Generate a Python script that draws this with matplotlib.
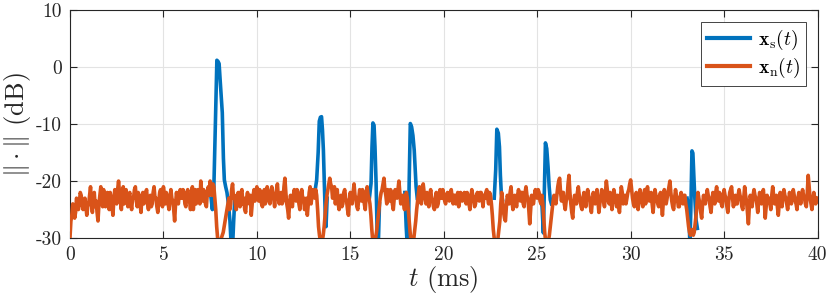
import numpy as np
import matplotlib
matplotlib.use("Agg")
import matplotlib.pyplot as plt

plt.rcParams['mathtext.fontset'] = 'cm'
plt.rcParams['font.family'] = 'serif'
plt.rcParams['font.serif'] = ['cmr10']
plt.rcParams['axes.unicode_minus'] = False
plt.rcParams['axes.formatter.use_mathtext'] = False

# ---------------- data ----------------
# noise series x_n(t), sampled every 0.05 ms from 0 to 40 ms (dB); one row per ms
noise_dt = 0.05
noise_db = [
    -30, -27, -26, -24, -24.5, -26.5, -25.5, -23, -23.5, -25, -24, -22, -22.5, -24, -25, -23.5, -23, -24.5, -26, -24.5,
    -24, -22.5, -21, -24, -25.5, -23, -22, -24.5, -23.5, -25.5, -27, -24, -22.5, -21, -23, -24.5, -21.5, -23, -24.5, -22.5,
    -22, -23.5, -25, -22, -23, -24.5, -26, -23, -21.5, -22.5, -24, -21.5, -20, -22, -23.5, -25, -22.5, -21, -24, -22.5,
    -21.5, -23, -24.5, -22.5, -22, -24, -25, -23, -23, -21.5, -21, -23.5, -24.5, -22, -22.5, -24, -25.5, -23, -22, -24,
    -23.5, -22, -21.5, -24, -25, -23, -22.5, -24.5, -24, -22, -21, -23, -23, -24.5, -25.5, -23.5, -22, -21.5, -23.5, -24.5,
    -21, -22.5, -24, -22, -22.5, -24, -25, -23, -21.5, -23, -23.5, -25, -27, -24, -22, -23.5, -24, -22, -21.5, -23,
    -23, -21.5, -22, -24, -24.5, -22.5, -21.5, -23, -23.5, -25, -22.5, -21, -25, -23, -21.5, -24, -23, -21.5, -22.5, -24,
    -20, -22, -23.5, -21.5, -22, -24, -24.5, -22, -21, -22.5, -20, -21.5, -22.5, -20.5, -21, -23, -25, -28, -30, -31,
    -31, -30.5, -30, -29.5, -29, -28, -27, -26, -25, -24, -23, -25, -24, -21.5, -20.5, -23, -22.5, -24, -25, -22.5,
    -22, -23, -24.5, -22, -21.5, -24, -23, -25, -25.5, -23, -22, -23.5, -24, -22.5, -26, -24, -22.5, -21.5, -23.5, -22,
    -21, -22.5, -23.5, -21.5, -22, -24, -24.5, -22.5, -21.5, -24, -23, -21, -22, -23.5, -24, -22, -21, -22.5, -23, -24.5,
    -22.5, -21.5, -20.5, -23, -24, -22.5, -22, -24, -23.5, -21, -19.5, -22, -24, -25, -26.5, -24, -22.5, -23.5, -24.5, -22.5,
    -21.5, -22.5, -23.5, -21.5, -22, -24, -25, -23, -21.5, -23, -23, -25, -24.5, -23, -26, -24, -22, -21, -24, -22.5,
    -21.5, -22.5, -23, -21.5, -22.5, -25, -28, -29.5, -30.5, -31, -30.5, -29.5, -28, -26, -24, -22.5, -21.5, -20.5, -19.5, -20.5,
    -21, -23, -22.5, -21, -24, -22.5, -21.5, -24, -25, -23, -22.5, -24.5, -24, -22, -21.5, -23, -23.5, -25, -26, -23.5,
    -22, -23.5, -24, -22, -20.5, -22.5, -23, -24.5, -25, -23, -21.5, -22.5, -23.5, -21.5, -22, -24, -25, -22.5, -21, -22.5,
    -23, -24, -26, -28.5, -30.5, -31, -30.5, -30, -29, -27.5, -26, -24.5, -23, -22, -21.5, -20.5, -19.5, -21.5, -22.5, -24,
    -21.5, -22.5, -23.5, -21.5, -22, -24, -25, -23, -21.5, -22.5, -23, -21.5, -20, -22, -24, -23, -22.5, -24, -25, -23,
    -22, -23, -25, -27, -29, -30.5, -31, -31, -30, -28.5, -27, -25, -23.5, -22, -21, -23, -24, -22, -20.5, -22,
    -23, -24, -22, -23.5, -24.5, -22.5, -21.5, -23, -23.5, -24.5, -25, -23, -22, -24.5, -24, -22.5, -21.5, -23, -23, -21.5,
    -22.5, -23.5, -24, -22.5, -22, -23, -23.5, -22, -21.5, -23, -24, -22.5, -22.5, -24, -23, -22, -24.5, -23.5, -22, -23,
    -23.5, -22.5, -22, -23, -24, -22, -22.5, -24, -25, -23, -21.5, -22.5, -23, -24.5, -24, -22.5, -22, -23, -23.5, -22,
    -22, -23, -24.5, -22.5, -23, -22, -21.5, -23, -24, -22, -22.5, -24, -26, -28.5, -30, -31, -31, -30.5, -30, -28.5,
    -27, -24, -22, -23.5, -25.5, -26.5, -27, -24.5, -22.5, -23, -24, -22, -21, -23.5, -25, -23, -22.5, -24, -24.5, -22.5,
    -21.5, -22.5, -23.5, -22, -22, -24, -24.5, -22, -21, -22.5, -23, -25, -27.5, -25, -22.5, -23.5, -24, -22.5, -21.5, -22.5,
    -23, -21.5, -22, -23.5, -24, -22.5, -24, -26.5, -29, -30.5, -31, -31, -30.5, -29.5, -28, -26.5, -25, -23.5, -22.5, -23,
    -24, -22.5, -21, -20, -19.5, -22, -23.5, -22, -22, -24, -25, -23.5, -23, -20.5, -19, -22, -24, -25.5, -26.5, -24,
    -22.5, -23, -24, -22, -21, -22.5, -23.5, -24.5, -25, -23, -22, -23.5, -24.5, -22.5, -21.5, -22.5, -23, -24.5, -25.5, -23.5,
    -22, -23, -24, -22.5, -21.5, -23.5, -25.5, -24, -23, -21.5, -22, -23.5, -24.5, -22, -20, -21.5, -23.5, -24, -22, -23.5,
    -25, -23, -21.5, -22.5, -23.5, -24.5, -22.5, -24, -25.5, -23, -21, -22, -24, -23, -22.5, -24, -23, -22, -21.5, -20.5,
    -19.8, -21.5, -23, -24, -24.5, -23, -22, -23.5, -25, -23, -21.5, -22.5, -23.5, -24.5, -22.5, -21.5, -24, -22.5, -21, -22.5,
    -23.5, -22.5, -22, -24, -25.5, -23.5, -21.5, -22.5, -23, -24, -24.5, -22.5, -22, -24, -26, -23.5, -21.5, -22.5, -24, -23,
    -22, -21, -20, -22, -23.5, -24.5, -25, -23, -21.5, -22.5, -23, -24.5, -24.5, -23, -22, -23.5, -24, -22.5, -22.5, -24,
    -25, -26.5, -28, -29, -29.5, -29, -28.5, -29.5, -29, -27.5, -26, -24, -22, -23, -24, -25.5, -26.5, -24, -22.5, -23.5,
    -24, -22.5, -21.5, -22.5, -23, -24.5, -25.5, -23.5, -22, -23, -24, -22, -21, -22.5, -23.5, -22, -22.5, -24, -24.5, -22.5,
    -21.5, -22.5, -23, -24.5, -25.5, -23.5, -22, -21.5, -21, -23, -24.5, -23, -22.5, -24, -24, -22.5, -21.5, -22.5, -23, -24.5,
    -25, -23, -21, -22.5, -23.5, -25.5, -27.5, -24.5, -22.5, -23.5, -24.5, -22.5, -21.5, -22.5, -23, -24, -25.5, -23.5, -22, -23,
    -24, -22.5, -21.5, -23.5, -26.5, -24.5, -22.5, -23.5, -23, -24, -25, -22.5, -21, -22.5, -24, -23, -22.5, -24.5, -26, -24,
    -22, -23, -24.5, -22.5, -21.5, -22.5, -23, -24, -25, -23.5, -22, -23, -24, -22.5, -21.5, -22.5, -23.5, -24, -25, -23,
    -22, -23, -24, -22.5, -21.5, -22.5, -23, -24, -24.5, -22, -19, -21, -23, -24, -25, -23.5, -22, -23, -24, -23.5,
    -23,
]

# signal x_s(t) around its bursts (ms, dB); NaN separates bursts
sig_t = [7.55, 7.62, 7.70, 7.78, 7.86, 7.92, 7.98, 8.03, 8.09, 8.15, 8.21, 8.26, 8.33, 8.40, 8.48, 8.56, 8.63, 8.70, 8.76, 8.82, np.nan,
         13.10, 13.20, 13.28, 13.34, 13.40, 13.46, 13.51, 13.56, 13.61, 13.66, 13.70, 13.76, np.nan,
         16.02, 16.11, 16.16, 16.21, 16.27, 16.32, 16.38, 16.44, 16.50, 16.56, np.nan,
         17.92, 17.99, 18.05, 18.10, 18.15, 18.21, 18.28, 18.35, 18.42, 18.52, 18.58, np.nan,
         22.70, 22.78, 22.84, 22.92, 22.98, 23.03, 23.08, 23.14, np.nan,
         25.18, 25.26, 25.33, 25.38, 25.44, 25.51, 25.58, 25.64, 25.70, 25.76, np.nan,
         33.02, 33.10, 33.17, 33.22, 33.28, 33.33, 33.38, 33.43, 33.50, 33.57]
sig_db = [-23, -25, -21, -10, 1.2, 1.0, 0.6, -2, -5, -8, -16, -19.8, -21, -22, -24, -27, -31.5, -31.5, -27, -23, np.nan,
          -22, -19.8, -15, -9.5, -8.8, -8.7, -11, -14.6, -20.4, -26, -28, -23, np.nan,
          -23, -20.4, -14, -9.8, -10.2, -14, -20.4, -29.8, -31, -24, np.nan,
          -22, -28, -31.5, -31, -20, -9.9, -10.5, -12, -14.6, -21, -23, np.nan,
          -23, -18, -10.9, -11.6, -14, -19, -22.2, -23.3, np.nan,
          -23, -24.5, -29.1, -22, -13.3, -14.3, -17.5, -21, -23.3, -24, np.nan,
          -23, -24.5, -31, -25, -14.7, -15.1, -19, -22.8, -26.8, -28.3]

x_ticks = [0, 5, 10, 15, 20, 25, 30, 35, 40]
y_ticks = [-30, -20, -10, 0, 10]

blue = '#0072BD'
orange = '#D95319'

# ---------------- plot ----------------
noise_t = np.arange(len(noise_db)) * noise_dt

fig = plt.figure(figsize=(8.30, 3.06), dpi=100)
ax = fig.add_axes([0.0843, 0.222, 0.9007, 0.745])

ax.plot(sig_t, sig_db, color=blue, lw=2.6, label=r'$\mathbf{x}_\mathrm{s}(t)$', zorder=3)
ax.plot(noise_t, noise_db, color=orange, lw=2.6, label=r'$\mathbf{x}_\mathrm{n}(t)$', zorder=4)

ax.set_xlim(0, 40)
ax.set_ylim(-30, 10)
ax.set_xticks(x_ticks)
ax.set_yticks(y_ticks)
ax.set_xticklabels([str(v) for v in x_ticks])
ax.set_yticklabels([str(v) for v in y_ticks])
ax.tick_params(direction='in', length=5, width=0.8, top=True, right=True,
               labelsize=14, colors='#262626', pad=6)
for sp in ax.spines.values():
    sp.set_color('#262626')
    sp.set_linewidth(0.8)
ax.grid(True, color='#e3e3e3', lw=0.8)
ax.set_axisbelow(True)

ax.set_xlabel(r'$t$ (ms)', fontsize=19, color='#262626', labelpad=0)
ax.set_ylabel(r'$\|\cdot\|$ (dB)', fontsize=19, color='#262626', labelpad=2)

leg = ax.legend(loc='upper right', fontsize=14, frameon=True, fancybox=False,
                edgecolor='#262626', framealpha=1, handlelength=2.2,
                borderaxespad=0.6, handletextpad=0.4, borderpad=0.3, labelspacing=0.2)
leg.get_frame().set_linewidth(0.6)
for line in leg.get_lines():
    line.set_linewidth(3)

fig.savefig('out.png', dpi=100)
